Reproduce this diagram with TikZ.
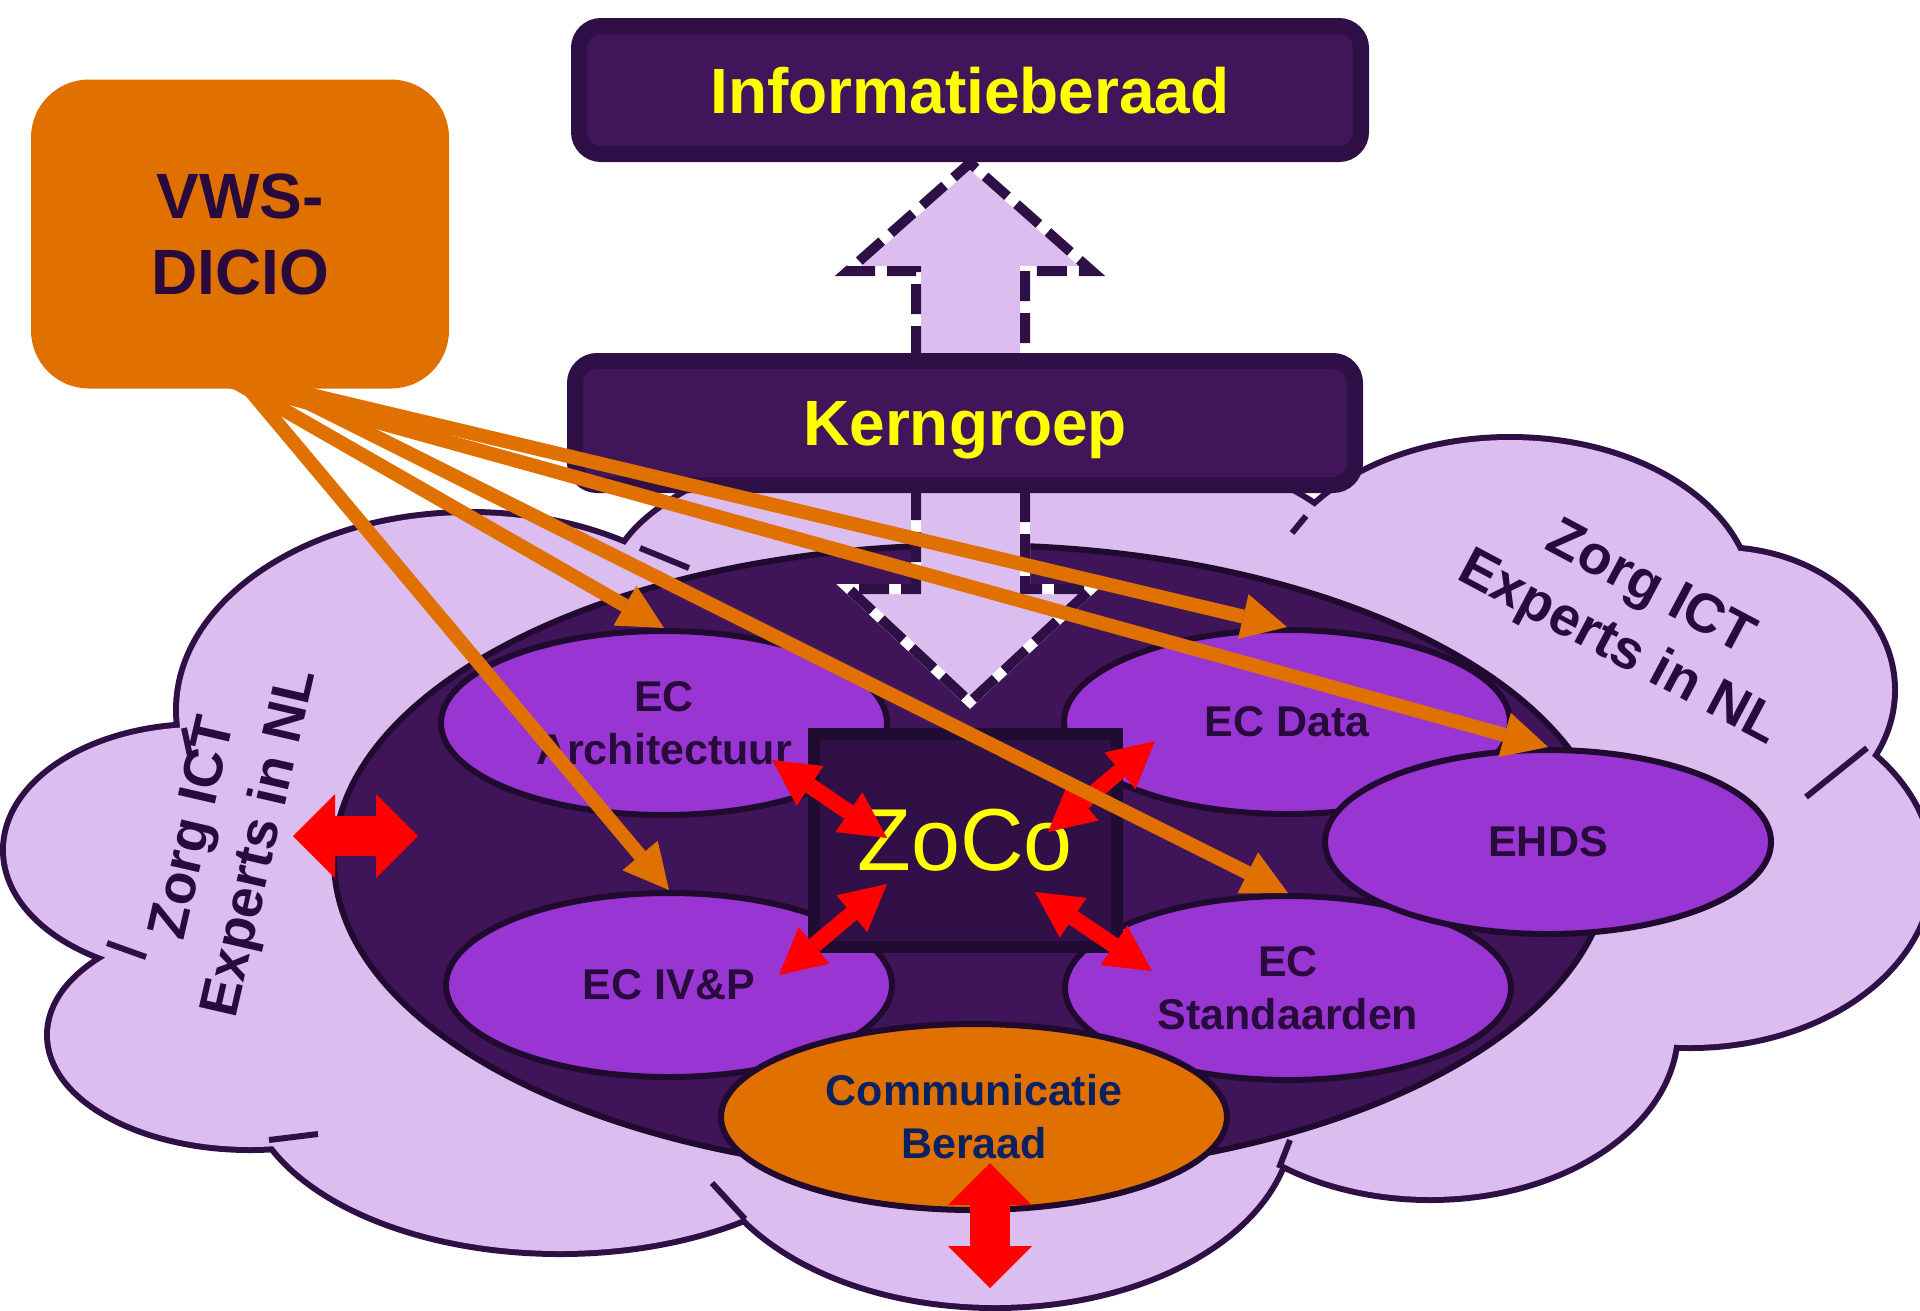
\documentclass[tikz,border=0pt]{standalone}
\usepackage{fontspec}
\setmainfont{Liberation Sans}
\usetikzlibrary{shapes.geometric,arrows.meta}

\definecolor{edgepurple}{RGB}{46,16,70}
\definecolor{cloudfill}{RGB}{220,189,239}
\definecolor{boxfill}{RGB}{65,21,90}
\definecolor{corefill}{RGB}{64,20,88}
\definecolor{coreedge}{RGB}{32,10,48}
\definecolor{ecfill}{RGB}{153,54,211}
\definecolor{vwsorange}{RGB}{224,112,0}
\definecolor{zocofill}{RGB}{48,16,70}
\definecolor{zocoedge}{RGB}{32,11,50}
\definecolor{labeldark}{RGB}{40,10,60}
\definecolor{commblue}{RGB}{10,34,96}
\definecolor{signyellow}{RGB}{255,255,0}

\begin{document}
\begin{tikzpicture}[x=1pt, y=-1pt,
  boardbox/.style={rectangle, rounded corners=22pt, draw=edgepurple, line width=16pt, fill=boxfill, minimum width=782pt, minimum height=128pt, inner sep=0pt, text=signyellow, text depth=0pt, font=\fontsize{64}{70}\selectfont\bfseries},
  ecnode/.style={ellipse, draw=coreedge, line width=6pt, fill=ecfill, minimum width=446pt, minimum height=184pt, inner sep=0pt, align=center, text=labeldark, font=\fontsize{43}{53}\selectfont\bfseries},
  cloudtext/.style={align=center, text=labeldark, font=\fontsize{55}{68}\selectfont\bfseries},
  orangearrow/.style={color=vwsorange, line width=14pt, -{Triangle[length=45pt, width=46pt, line width=0pt]}},
  redarrow/.style={color=red, line width=16pt, {Triangle[length=46pt, width=48pt, line width=0pt]}-{Triangle[length=46pt, width=48pt, line width=0pt]}},
  bigredarrow/.style={color=red, line width=40pt, {Triangle[length=42pt, width=84pt, line width=0pt]}-{Triangle[length=42pt, width=84pt, line width=0pt]}},
  dashline/.style={draw=edgepurple, line width=10pt, dash pattern=on 30pt off 12pt},
  whiteline/.style={draw=white, line width=10pt},
  cloudedge/.style={draw=edgepurple, line width=6pt}]

\useasboundingbox (0,0) rectangle (1920,1310);
\clip (0,0) rectangle (1920,1310);

% cloud
\path[fill=cloudfill, preaction={draw=edgepurple, line width=12pt}]
  (200,850) ellipse [x radius=194, y radius=123]
  (470,710) ellipse [x radius=291, y radius=195]
  (990,590) ellipse [x radius=380, y radius=160]
  (1510,600) ellipse [x radius=240, y radius=160]
  (1720,690) ellipse [x radius=172, y radius=140]
  (1690,870) ellipse [x radius=240, y radius=175]
  (1430,1030) ellipse [x radius=245, y radius=167]
  (995,1120) ellipse [x radius=295, y radius=185]
  (560,1080) ellipse [x radius=311, y radius=171]
  (250,1035) ellipse [x radius=200, y radius=112];
\fill[cloudfill] (180,850) -- (470,600) -- (990,520) -- (1510,520) -- (1720,700) -- (1700,950)
  -- (1430,1100) -- (990,1200) -- (560,1180) -- (250,1050) -- cycle;

\draw[cloudedge] (184,728) -- (190,756);
\draw[cloudedge] (107,943) -- (146,957);
\draw[cloudedge] (269,1140) -- (318,1134);
\draw[cloudedge] (712,1183) -- (745,1219);
\draw[cloudedge] (1279,1168) -- (1290,1140);
\draw[cloudedge] (1806,797) -- (1867,748);
\draw[cloudedge] (1306,516) -- (1292,533);
\draw[cloudedge] (640,548) -- (689,568);

\node[cloudtext, rotate=77] at (229,836) (nlleft) {Zorg ICT\\Experts in NL};
\node[cloudtext, rotate=-28] at (1634,620) (nlright) {Zorg ICT\\Experts in NL};

\draw[fill=corefill, draw=coreedge, line width=6pt] (972,860) ellipse [x radius=638, y radius=315];

% dashed arrows
\fill[cloudfill] (916,356) -- (916,271) -- (848,271) -- (970,163) -- (1092,271) -- (1025,271) -- (1025,356) -- cycle;
\draw[whiteline] (916,356) -- (916,271) -- (848,271) -- (970,163) -- (1092,271) -- (1025,271) -- (1025,356);
\draw[dashline] (916,356) -- (916,271) -- (848,271) -- (970,163) -- (1092,271) -- (1025,271) -- (1025,356);

\fill[cloudfill] (916,490) -- (916,589) -- (849,589) -- (970,702) -- (1091,589) -- (1025,589) -- (1025,490) -- cycle;
\draw[whiteline] (916,490) -- (916,589) -- (849,589) -- (970,702) -- (1091,589) -- (1025,589) -- (1025,490);
\draw[dashline] (916,490) -- (916,589) -- (849,589) -- (970,702) -- (1091,589) -- (1025,589) -- (1025,490);

\node[boardbox] at (970,90) (info) {Informatieberaad};
\node[boardbox, minimum width=780pt, minimum height=124pt] at (965,423) (kern) {Kerngroep};

\node[ecnode] at (664,723) (arch) {EC\\Architectuur};
\node[ecnode] at (669,985) (ivp) {EC IV\&P};
\node[ecnode] at (1287,722) (data) {EC Data};
\node[ecnode] at (1288,988) (std) {EC\\Standaarden};
\node[ecnode] at (1548,842) (ehds) {EHDS};
\node[ecnode, fill=vwsorange, text=commblue, minimum width=506pt, minimum height=186pt] at (974,1117) (comm) {Communicatie\\Beraad};

\node[draw=zocoedge, fill=zocofill, line width=12pt, minimum width=303pt, minimum height=213pt, inner sep=0pt, text=signyellow, font=\fontsize{88}{95}\selectfont] at (965,840) (zoco) {ZoCo};

\node[fill=vwsorange, rounded corners=58pt, minimum width=418pt, minimum height=309pt, inner sep=0pt, align=center, text=labeldark, font=\fontsize{64}{76}\selectfont\bfseries] at (240,234) (vws) {VWS-\\DICIO};

% red arrows
\coordinate (za) at (772,760);
\coordinate (zb) at (887,838);
\coordinate (zc) at (1155,741);
\coordinate (zd) at (1048,832);
\coordinate (ze) at (779,975);
\coordinate (zf) at (887,884);
\coordinate (zg) at (1152,971);
\coordinate (zh) at (1035,892);
\coordinate (ca) at (293,836);
\coordinate (cb) at (418,836);
\coordinate (cc) at (990,1163);
\coordinate (cd) at (990,1288);

\draw[redarrow] (za) -- (zb);
\draw[redarrow] (zc) -- (zd);
\draw[redarrow] (ze) -- (zf);
\draw[redarrow] (zg) -- (zh);
\draw[bigredarrow] (ca) -- (cb);
\draw[bigredarrow] (cc) -- (cd);

% orange arrows
\draw[orangearrow] ([xshift=2pt, yshift=8pt]vws.south) -- (ivp.north);
\draw[orangearrow] ([xshift=-7pt, yshift=8pt]vws.south) -- (arch.north);
\draw[orangearrow] ([xshift=24pt, yshift=8pt]vws.south) -- (std.north);
\draw[orangearrow] ([xshift=-12pt, yshift=8pt]vws.south) -- (ehds.north);
\draw[orangearrow] ([xshift=11pt, yshift=8pt]vws.south) -- (data.north);

\end{tikzpicture}
\end{document}
